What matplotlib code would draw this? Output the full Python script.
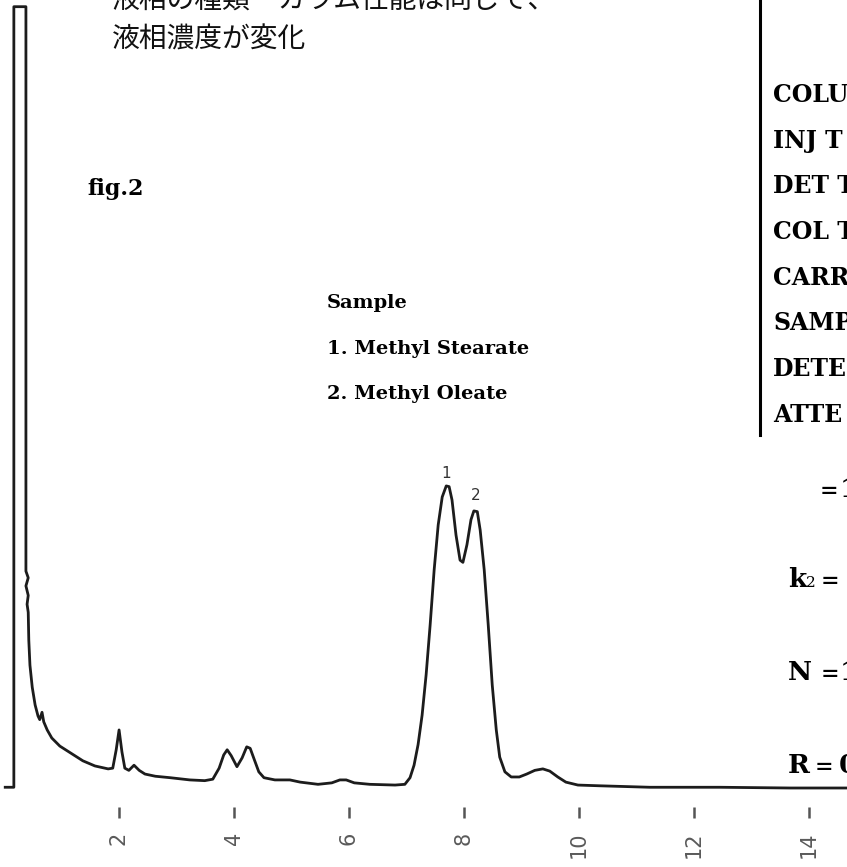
import matplotlib
matplotlib.use('Agg')
import matplotlib.pyplot as plt

W, H, DPI = 847, 867, 100

# ---- data (retention time in minutes, detector signal in arbitrary units) ----
time_min = [0.03, 0.18, 0.18, 0.39, 0.39, 0.43, 0.39, 0.43, 0.41, 0.43, 0.44, 0.46,
            0.50, 0.55, 0.60, 0.63, 0.67, 0.70, 0.76, 0.84, 0.98, 1.16, 1.38, 1.59,
            1.82, 1.90, 1.96, 2.01, 2.06, 2.11, 2.18, 2.27, 2.36, 2.46, 2.64, 2.90,
            3.24, 3.50, 3.64, 3.75, 3.83, 3.89, 3.96, 4.06, 4.15, 4.23, 4.29, 4.36,
            4.44, 4.53, 4.72, 4.98, 5.16, 5.47, 5.71, 5.85, 5.96, 6.10, 6.37, 6.81,
            6.98, 7.07, 7.14, 7.21, 7.28, 7.35, 7.42, 7.49, 7.56, 7.63, 7.70, 7.75,
            7.80, 7.87, 7.94, 7.99, 8.06, 8.13, 8.18, 8.24, 8.29, 8.36, 8.43, 8.50,
            8.57, 8.63, 8.72, 8.83, 8.97, 9.10, 9.24, 9.38, 9.50, 9.64, 9.78, 9.99,
            10.37, 11.24, 12.46, 13.68, 14.67]
signal = [0.1, 0.1, 106.3, 106.3, 29.5, 28.6, 27.5, 26.2, 25.0, 23.9, 20.1, 16.7,
          13.7, 11.3, 9.8, 9.3, 10.3, 9.0, 7.9, 6.8, 5.7, 4.8, 3.7, 3.0,
          2.6, 2.7, 5.2, 7.9, 4.9, 2.7, 2.4, 3.1, 2.4, 1.9, 1.6, 1.4,
          1.1, 1.0, 1.2, 2.7, 4.5, 5.2, 4.4, 2.9, 4.1, 5.6, 5.4, 3.9,
          2.2, 1.4, 1.1, 1.1, 0.8, 0.5, 0.7, 1.1, 1.1, 0.7, 0.5, 0.4,
          0.5, 1.4, 3.1, 5.9, 9.9, 15.4, 22.2, 29.7, 35.8, 39.6, 41.1, 41.0,
          39.2, 34.4, 31.0, 30.7, 33.1, 36.5, 37.7, 37.6, 35.1, 29.7, 22.2, 14.0,
          7.9, 4.2, 2.2, 1.5, 1.5, 1.9, 2.4, 2.6, 2.3, 1.5, 0.8, 0.4,
          0.3, 0.1, 0.1, 0.0, 0.0]
tick_minutes = [2, 4, 6, 8, 10, 12, 14]
peak_labels = ['1', '2']
peak_label_t = [7.69, 8.22]
peak_label_s = [42.2, 39.2]

heading_lines = ['液相の種類・カラム性能は同じで、', '液相濃度が変化']
fig_label = 'fig.2'
sample_lines = ['Sample', '1. Methyl Stearate', '2. Methyl Oleate']
# condition labels as far as they are visible before the right edge
condition_lines = ['COLU', 'INJ T', 'DET T', 'COL T', 'CARR', 'SAMP', 'DETE', 'ATTE']

# ---- figure ----
fig = plt.figure(figsize=(W / DPI, H / DPI), dpi=DPI)
fig.patch.set_facecolor('white')


def fx(x):
    return x / W


def fy(y):
    return 1 - y / H


ax_bottom_px = 818
ax = fig.add_axes([0, fy(ax_bottom_px), 1, ax_bottom_px / H])
ax.set_facecolor('none')
px_per_min = 57.5
x0_px = 3.5
px_per_unit = 7.35
base_px = 788
ax.set_xlim(-x0_px / px_per_min, (W - x0_px) / px_per_min)
ax.set_ylim((base_px - ax_bottom_px) / px_per_unit, base_px / px_per_unit)
for sp in ax.spines.values():
    sp.set_visible(False)

ax.plot(time_min, signal, color='#1c1c1c', lw=2.0, solid_joinstyle='round')

ax.set_xticks(tick_minutes)
ax.set_xticklabels([str(v) for v in tick_minutes], rotation=90, fontsize=15,
                   color='#5a5a5a', family='DejaVu Sans')
ax.tick_params(axis='x', direction='in', length=8, width=1.8, color='#555555',
               pad=10)
ax.set_yticks([])

for lab, t, s in zip(peak_labels, peak_label_t, peak_label_s):
    ax.text(t, s, lab, ha='center', va='baseline', fontsize=11, color='#333333',
            family='DejaVu Sans')

# ---- annotations ----
cjk = ['Noto Sans CJK JP', 'DejaVu Sans']
fig.text(fx(112), fy(8), heading_lines[0], fontsize=20, family=cjk,
         va='baseline', ha='left', color='#111111')
fig.text(fx(112), fy(48), heading_lines[1], fontsize=20, family=cjk,
         va='baseline', ha='left', color='#111111')

serif = 'DejaVu Serif'
fig.text(fx(87), fy(195), fig_label, fontsize=16, family=serif,
         weight='bold', va='baseline', ha='left')

for i, line in enumerate(sample_lines):
    fig.text(fx(327), fy(308 + 45.5 * i), line, fontsize=14, family=serif,
             weight='bold', va='baseline', ha='left')

# vertical separator line
fig.add_artist(plt.Line2D([fx(760), fx(760)], [fy(0), fy(435)],
                          color='black', lw=2.2))

for i, line in enumerate(condition_lines):
    fig.text(fx(773), fy(102 + 45.7 * i), line, fontsize=17, family=serif,
             weight='bold', va='baseline', ha='left')

# results column: (text, x px, baseline px, size)
result_tokens = [
    ('=', 820, 497, 16), ('1', 840, 497, 19),
    ('k', 788, 587, 19), ('2', 806, 587, 11), ('=', 821, 587, 16),
    ('N', 788, 680, 19), ('=', 821, 680, 16), ('1', 840, 680, 19),
    ('R', 788, 773, 19), ('=', 815, 773, 16), ('0', 839, 773, 19),
]
for tok, x, y, size in result_tokens:
    fig.text(fx(x), fy(y), tok, fontsize=size, family=serif,
             weight='bold' if size > 12 else 'normal', va='baseline', ha='left')

fig.savefig('out.png', dpi=DPI, facecolor='white')
